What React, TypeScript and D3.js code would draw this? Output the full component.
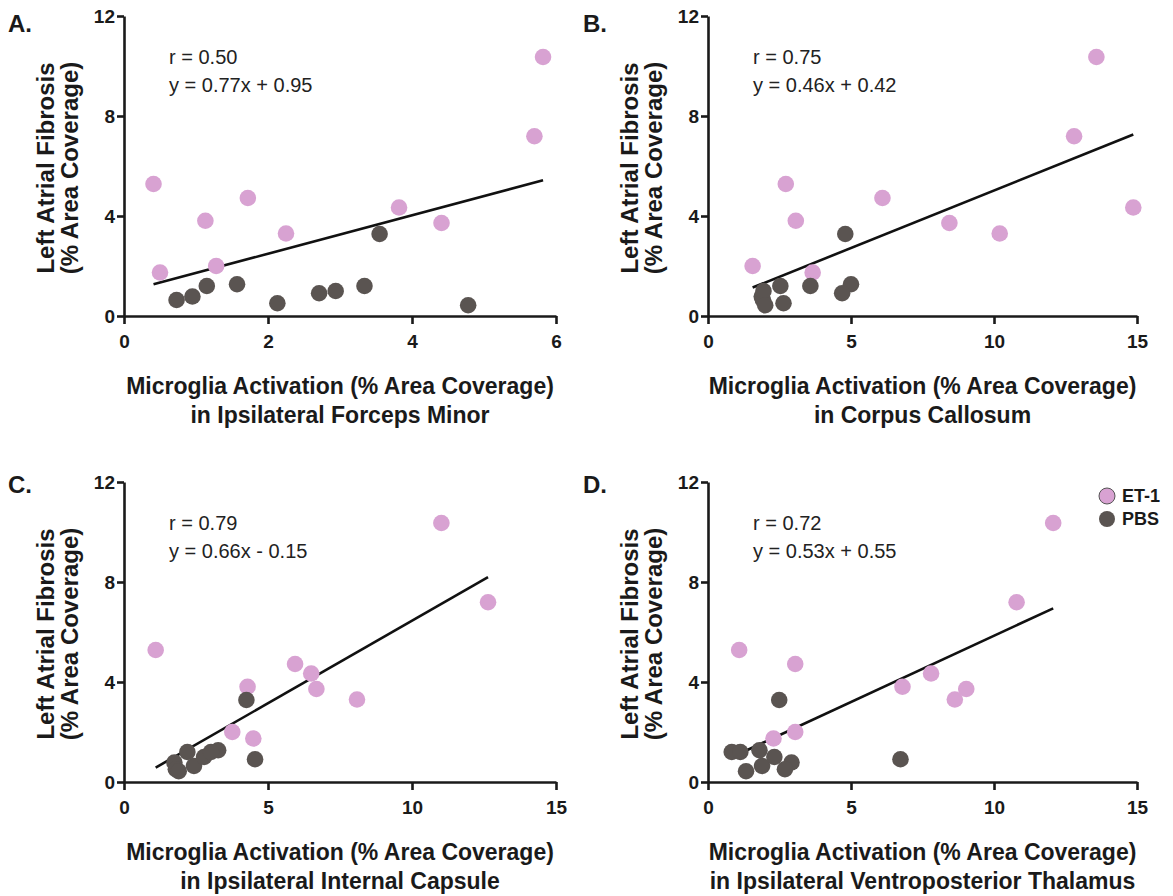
import React, { useEffect, useRef } from 'react';
import * as d3 from 'd3';

// left atrial fibrosis per animal (same animals in every panel)
const et1Fibrosis = [5.28, 1.74, 3.81, 2.0, 4.72, 3.3, 4.34, 3.72, 7.19, 10.36];
const pbsFibrosis = [0.64, 0.78, 1.2, 1.27, 0.51, 0.91, 1.0, 1.2, 3.28, 0.43];

// microglia activation per region, same animal order as above
const forcepsEt1 = [0.41, 0.5, 1.13, 1.28, 1.72, 2.25, 3.82, 4.41, 5.7, 5.82];
const forcepsPbs = [0.73, 0.95, 1.15, 1.57, 2.13, 2.71, 2.94, 3.34, 3.55, 4.78];
const callosumEt1 = [2.72, 3.66, 3.07, 1.56, 6.1, 10.2, 14.87, 8.44, 12.8, 13.58];
const callosumPbs = [1.92, 1.88, 3.58, 5.0, 2.64, 4.69, 1.94, 2.53, 4.8, 2.0];
const capsuleEt1 = [1.1, 4.49, 4.29, 3.76, 5.94, 8.09, 6.5, 6.68, 12.64, 11.02];
const capsulePbs = [2.43, 1.75, 2.2, 3.27, 1.8, 4.55, 2.78, 3.02, 4.25, 1.9];
const thalamusEt1 = [1.09, 2.29, 6.8, 3.05, 3.05, 8.63, 7.8, 9.03, 10.79, 12.07];
const thalamusPbs = [1.89, 2.92, 0.83, 1.8, 2.69, 6.73, 2.32, 1.13, 2.49, 1.33];

const panelLetters = ['A.', 'B.', 'C.', 'D.'];
const regionNames = [
  'in Ipsilateral Forceps Minor',
  'in Corpus Callosum',
  'in Ipsilateral Internal Capsule',
  'in Ipsilateral Ventroposterior Thalamus',
];
const rValues = ['0.50', '0.75', '0.79', '0.72'];
const slopes = [0.77, 0.46, 0.66, 0.53];
const intercepts = [0.95, 0.42, -0.15, 0.55];
const xMaxes = [6, 15, 15, 15];
const xTickStep = [2, 5, 5, 5];
const yTicks = [0, 4, 8, 12];
const groups = ['ET-1', 'PBS'];

const et1X = [forcepsEt1, callosumEt1, capsuleEt1, thalamusEt1];
const pbsX = [forcepsPbs, callosumPbs, capsulePbs, thalamusPbs];

const PINK = '#d8a2d2';
const DARK = '#5a5451';
const INK = '#1a1a1a';
const FONT = '"Liberation Sans", Arial, Helvetica, sans-serif';

const App = () => {
  const svgRef = useRef<SVGSVGElement>(null);

  useEffect(() => {
    const svg = d3.select(svgRef.current);
    svg.selectAll('*').remove();

    const lefts = [124, 708];
    const widths = [432, 429];
    const tops = [16, 482];
    const letterY = [32, 493];
    const h = 300;

    panelLetters.forEach((letter, i) => {
      const col = i % 2;
      const row = Math.floor(i / 2);
      const g = svg.append('g')
        .attr('transform', `translate(${lefts[col]},${tops[row]})`);

      const x = d3.scaleLinear().domain([0, xMaxes[i]]).range([0, widths[col]]);
      const y = d3.scaleLinear().domain([0, 12]).range([h, 0]);

      const yAxis = g.append('g')
        .call(d3.axisLeft(y).tickValues(yTicks).tickFormat(d3.format('d'))
          .tickSize(7).tickPadding(2).tickSizeOuter(0));
      const xAxis = g.append('g')
        .attr('transform', `translate(0,${h})`)
        .call(d3.axisBottom(x).tickValues(d3.range(0, xMaxes[i] + 0.01, xTickStep[i]))
          .tickFormat(d3.format('d')).tickSize(8).tickPadding(11).tickSizeOuter(0));
      [yAxis, xAxis].forEach(a => {
        a.selectAll('path, line').attr('stroke', INK).attr('stroke-width', 2.6);
        a.selectAll('text').attr('fill', INK).attr('font-family', FONT)
          .attr('font-weight', 'bold').attr('font-size', 19);
      });

      // regression line over the range of x data
      const allX = et1X[i].concat(pbsX[i]);
      const xr = d3.extent(allX) as [number, number];
      const fit = d3.line<number>()
        .x(d => x(d))
        .y(d => y(slopes[i] * d + intercepts[i]));
      g.append('path')
        .attr('d', fit(xr))
        .attr('stroke', '#111')
        .attr('stroke-width', 2.6)
        .attr('fill', 'none');

      g.selectAll('circle.et1')
        .data(et1X[i].map((v, k) => [v, et1Fibrosis[k]]))
        .join('circle')
        .attr('class', 'et1')
        .attr('cx', d => x(d[0]))
        .attr('cy', d => y(d[1]))
        .attr('r', 8.3)
        .attr('fill', PINK);

      g.selectAll('circle.pbs')
        .data(pbsX[i].map((v, k) => [v, pbsFibrosis[k]]))
        .join('circle')
        .attr('class', 'pbs')
        .attr('cx', d => x(d[0]))
        .attr('cy', d => y(d[1]))
        .attr('r', 8.3)
        .attr('fill', DARK);

      // r and equation
      const sign = intercepts[i] < 0 ? '-' : '+';
      const eq = `y = ${slopes[i].toFixed(2)}x ${sign} ${Math.abs(intercepts[i]).toFixed(2)}`;
      [`r = ${rValues[i]}`, eq].forEach((t, k) => {
        g.append('text')
          .attr('x', 45)
          .attr('y', 48 + k * 28)
          .attr('font-family', FONT)
          .attr('font-size', 20)
          .attr('fill', '#222')
          .text(t);
      });

      // y title
      const yt = g.append('text')
        .attr('transform', `translate(0,${h / 2 + 2}) rotate(-90)`)
        .attr('text-anchor', 'middle')
        .attr('font-family', FONT)
        .attr('font-weight', 'bold')
        .attr('font-size', 24)
        .attr('fill', INK);
      yt.append('tspan').attr('x', 0).attr('y', -70).text('Left Atrial Fibrosis');
      yt.append('tspan').attr('x', 0).attr('y', -46).text('(% Area Coverage)');

      // x title
      const xt = g.append('text')
        .attr('text-anchor', 'middle')
        .attr('font-family', FONT)
        .attr('font-weight', 'bold')
        .attr('font-size', 23)
        .attr('fill', INK);
      xt.append('tspan').attr('x', widths[col] / 2).attr('y', h + 78)
        .text('Microglia Activation (% Area Coverage)');
      xt.append('tspan').attr('x', widths[col] / 2).attr('y', h + 107)
        .text(regionNames[i]);

      svg.append('text')
        .attr('x', col === 0 ? 8 : 583)
        .attr('y', letterY[row])
        .attr('font-family', FONT)
        .attr('font-weight', 'bold')
        .attr('font-size', 24)
        .attr('fill', INK)
        .text(letter);
    });

    // legend
    const lg = svg.append('g').attr('transform', 'translate(1107,496)');
    groups.forEach((name, k) => {
      lg.append('circle')
        .attr('cx', 0)
        .attr('cy', k * 23)
        .attr('r', 8)
        .attr('fill', k === 0 ? PINK : DARK)
        .attr('stroke', k === 0 ? '#555' : 'none')
        .attr('stroke-width', 1);
      lg.append('text')
        .attr('x', 15)
        .attr('y', k * 23 + 6)
        .attr('font-family', FONT)
        .attr('font-weight', 'bold')
        .attr('font-size', 18)
        .attr('fill', INK)
        .text(name);
    });
  }, []);

  return (
    <svg ref={svgRef} width={1173} height={896}
      style={{ position: 'absolute', left: 0, top: 0, background: '#fff' }} />
  );
};

export default App;
